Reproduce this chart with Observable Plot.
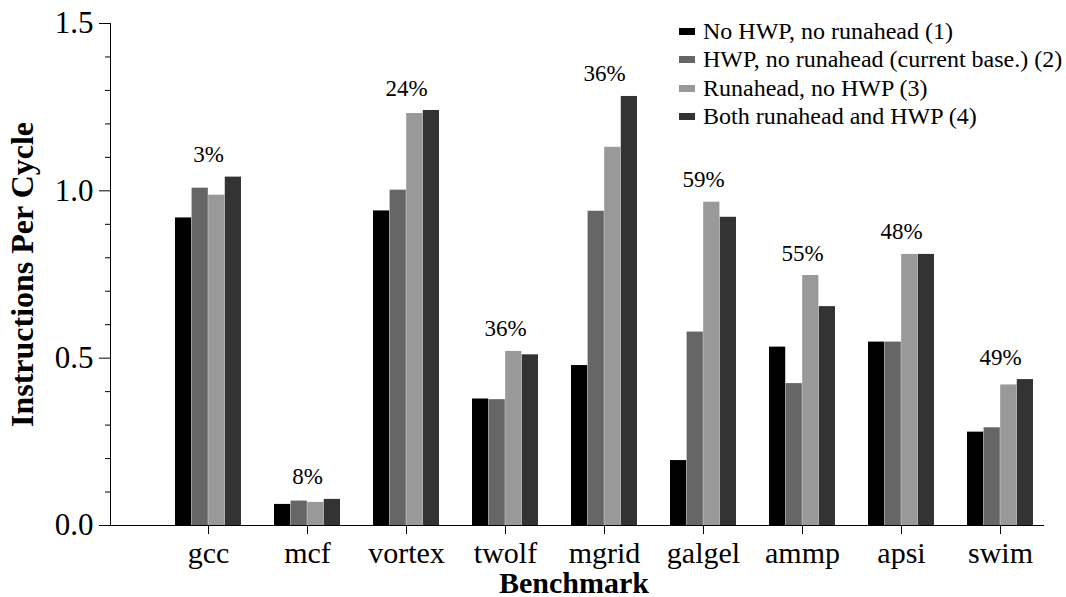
<!DOCTYPE html>
<html>
<head>
<meta charset="utf-8">
<script src="https://cdn.jsdelivr.net/npm/d3@7"></script>
<script src="https://cdn.jsdelivr.net/npm/@observablehq/plot@0.6"></script>
<style>
  html, body { margin: 0; padding: 0; background: #fff; }
  #wrap { position: relative; width: 1066px; height: 597px; overflow: hidden; }
  #legend { position: absolute; left: 679px; top: 18px; }
  .lg-swatch > svg { margin-right: 8px !important; }
</style>
</head>
<body>
<div id="wrap"><div id="chart"></div><div id="legend"></div></div>
<script>
const benchmarks = ["gcc", "mcf", "vortex", "twolf", "mgrid", "galgel", "ammp", "apsi", "swim"];
const seriesNames = [
  "No HWP, no runahead (1)",
  "HWP, no runahead (current base.) (2)",
  "Runahead, no HWP (3)",
  "Both runahead and HWP (4)"
];
const noHwpNoRunahead = [0.919, 0.063, 0.940, 0.378, 0.478, 0.194, 0.533, 0.548, 0.279];
const hwpNoRunahead   = [1.008, 0.073, 1.002, 0.376, 0.939, 0.578, 0.424, 0.548, 0.292];
const runaheadNoHwp   = [0.987, 0.069, 1.231, 0.520, 1.130, 0.966, 0.747, 0.810, 0.420];
const bothRunaheadHwp = [1.041, 0.078, 1.240, 0.510, 1.282, 0.921, 0.654, 0.810, 0.436];
const speedupLabels = ["3%", "8%", "24%", "36%", "36%", "59%", "55%", "48%", "49%"];
const seriesColors = ["#000000", "#666666", "#999999", "#333333"];
const yMajorTicks = [0, 0.5, 1.0, 1.5];
const yMajorLabels = ["0.0", "0.5", "1.0", "1.5"];
const yMinorTicks = [0.1, 0.2, 0.3, 0.4, 0.6, 0.7, 0.8, 0.9, 1.1, 1.2, 1.3, 1.4];

const seriesValues = [noHwpNoRunahead, hwpNoRunahead, runaheadNoHwp, bothRunaheadHwp];
const rows = [];
benchmarks.forEach((b, i) => seriesNames.forEach((s, j) => rows.push({benchmark: b, series: s, ipc: seriesValues[j][i]})));
const labelRows = benchmarks.map((b, i) => ({
  benchmark: b,
  top: Math.max(...seriesValues.map(v => v[i])),
  label: speedupLabels[i]
}));

const serif = "'Liberation Serif', 'Times New Roman', Times, serif";
const xRange = [158.8, 1050.2];
const padInner = 0.33;
const step = (xRange[1] - xRange[0]) / benchmarks.length;
const bw = step * (1 - padInner);
const q = bw / seriesNames.length;

const chart = Plot.plot({
  width: 1066,
  height: 597,
  marginTop: 23,
  marginBottom: 72,
  marginLeft: 110,
  marginRight: 23,
  style: {fontFamily: serif, background: "white", color: "black"},
  x: {type: "band", domain: benchmarks, range: xRange, paddingInner: padInner, paddingOuter: padInner / 2},
  y: {domain: [0, 1.5]},
  color: {domain: seriesNames, range: seriesColors},
  marks: [
    ...seriesNames.map((s, j) => Plot.barY(rows.filter(r => r.series === s), {
      x: "benchmark", y: "ipc", fill: "series",
      insetLeft: j * q, insetRight: (seriesNames.length - 1 - j) * q
    })),
    Plot.frame({anchor: "left"}),
    Plot.frame({anchor: "bottom"}),
    Plot.axisY(yMajorTicks, {tickSize: 11, tickPadding: 6, fontSize: 31, label: null,
      tickFormat: d => yMajorLabels[yMajorTicks.indexOf(d)]}),
    Plot.axisY(yMinorTicks, {tickSize: 5, label: null, tickFormat: () => ""}),
    Plot.axisX({tickSize: 9, tickPadding: 7, fontSize: 30, label: null}),
    Plot.text(labelRows, {x: "benchmark", y: "top", text: "label", dy: -15, lineAnchor: "bottom", fontSize: 23}),
    Plot.text(["Instructions Per Cycle"], {frameAnchor: "left", textAnchor: "middle", rotate: -90, dx: -88, fontSize: 32, fontWeight: "bold"}),
    Plot.text(["Benchmark"], {frameAnchor: "bottom", dy: 67, dx: -3, lineAnchor: "bottom", fontSize: 30, fontWeight: "bold"})
  ]
});
document.getElementById("chart").appendChild(chart);

const legend = Plot.legend({
  color: {domain: seriesNames, range: seriesColors},
  legend: "swatches",
  columns: 1,
  swatchWidth: 16,
  swatchHeight: 7,
  className: "lg",
  style: {fontFamily: serif, fontSize: "24px", lineHeight: "27.3px", color: "black"}
});
document.getElementById("legend").appendChild(legend);
</script>
</body>
</html>
